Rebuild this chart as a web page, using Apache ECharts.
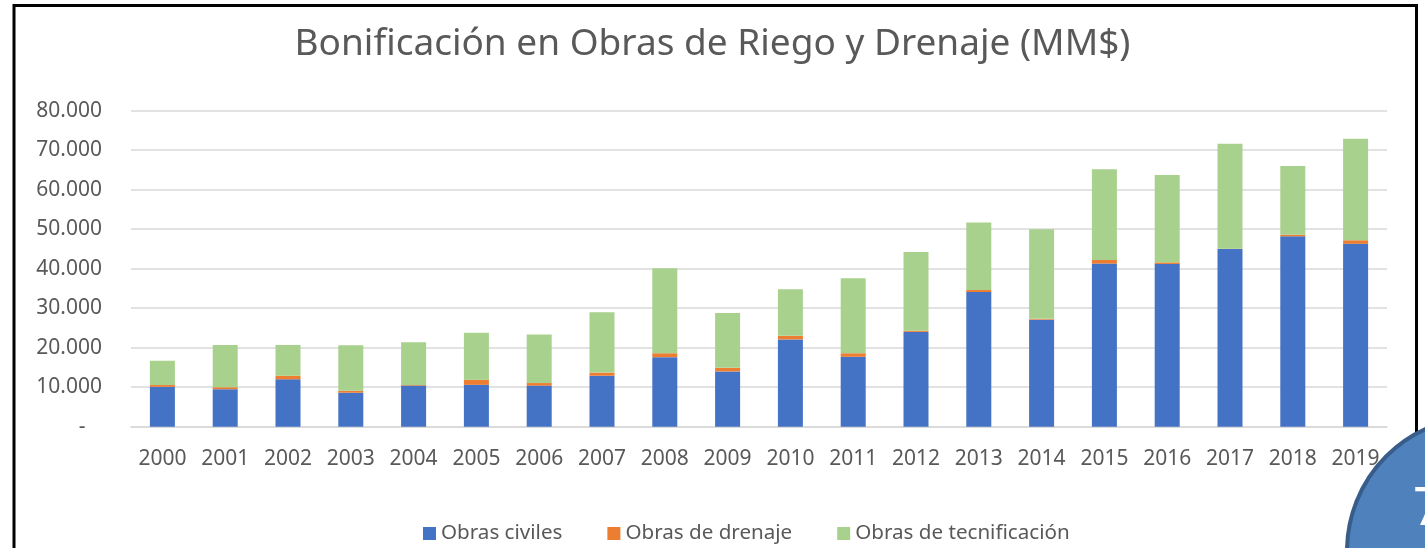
<!DOCTYPE html>
<html>
<head>
<meta charset="utf-8">
<script src="https://cdn.jsdelivr.net/npm/echarts@6/dist/echarts.min.js"></script>
<style>
html,body{margin:0;padding:0;background:#fff;}
#c{width:1425px;height:548px;}
</style>
</head>
<body>
<div id="c"></div>
<script>
const years = ['2000','2001','2002','2003','2004','2005','2006','2007','2008','2009','2010','2011','2012','2013','2014','2015','2016','2017','2018','2019'];
const obrasCiviles = [10100, 9500, 12000, 8600, 10400, 10600, 10400, 12900, 17600, 14000, 22100, 17700, 24000, 34100, 27100, 41300, 41200, 45000, 48200, 46300];
const obrasDrenaje = [450, 500, 900, 500, 150, 1300, 650, 800, 1000, 900, 900, 900, 300, 500, 200, 900, 400, 60, 400, 900];
const obrasTecnificacion = [6150, 10700, 7800, 11500, 10850, 11900, 12300, 15300, 21500, 13900, 11800, 19000, 19900, 17100, 22700, 23000, 22100, 26600, 17400, 25700];
const seriesNames = ['Obras civiles', 'Obras de drenaje', 'Obras de tecnificación'];
const titleText = 'Bonificación en Obras de Riego y Drenaje (MM$)';

const FONT = '"Noto Sans", sans-serif';
const chart = echarts.init(document.getElementById('c'));
const mk = (name, data, color) => ({
  name, type: 'bar', stack: 'total', data, barWidth: 25,
  itemStyle: { color }, emphasis: { disabled: true }
});
chart.setOption({
  animation: false,
  title: {
    text: titleText, left: 'center', top: 21,
    textStyle: { fontFamily: FONT, fontSize: 37, fontWeight: 'normal', color: '#595959' }
  },
  grid: { left: 131, right: 38, top: 110.7, bottom: 121.3 },
  legend: {
    left: 418, top: 518, itemWidth: 13, itemHeight: 13, itemGap: 45,
    icon: 'rect',
    textStyle: { fontFamily: FONT, fontSize: 20.6, color: '#595959' },
    data: seriesNames
  },
  xAxis: {
    type: 'category', data: years,
    axisLine: { lineStyle: { color: '#d9d9d9', width: 1.5 } },
    axisTick: { show: false },
    axisLabel: { fontFamily: FONT, fontSize: 21, color: '#595959', margin: 22 }
  },
  yAxis: {
    type: 'value', min: 0, max: 80000, interval: 10000,
    axisLine: { show: false }, axisTick: { show: false },
    splitLine: { lineStyle: { color: '#d9d9d9', width: 1.5 } },
    axisLabel: {
      fontFamily: FONT, fontSize: 21, color: '#595959', margin: 29,
      formatter: v => v === 0 ? '-   ' : (v / 1000) + '.000'
    }
  },
  series: [
    mk(seriesNames[0], obrasCiviles, '#4472C4'),
    mk(seriesNames[1], obrasDrenaje, '#ED7D31'),
    mk(seriesNames[2], obrasTecnificacion, '#A9D18E')
  ],
  graphic: [
    { type: 'rect', silent: true, z: 100,
      shape: { x: 14, y: 5.5, width: 1402.5, height: 620 },
      style: { fill: 'none', stroke: '#000', lineWidth: 3 } },
    { type: 'circle', silent: true, z: 101,
      shape: { cx: 1481, cy: 551, r: 134 },
      style: { fill: '#4F81BD', stroke: '#385D8A', lineWidth: 4 } },
    { type: 'text', silent: true, z: 102, left: 1413, top: 484,
      style: { text: '7', fill: '#fff', fontFamily: FONT, fontSize: 52 } }
  ]
});
</script>
</body>
</html>
